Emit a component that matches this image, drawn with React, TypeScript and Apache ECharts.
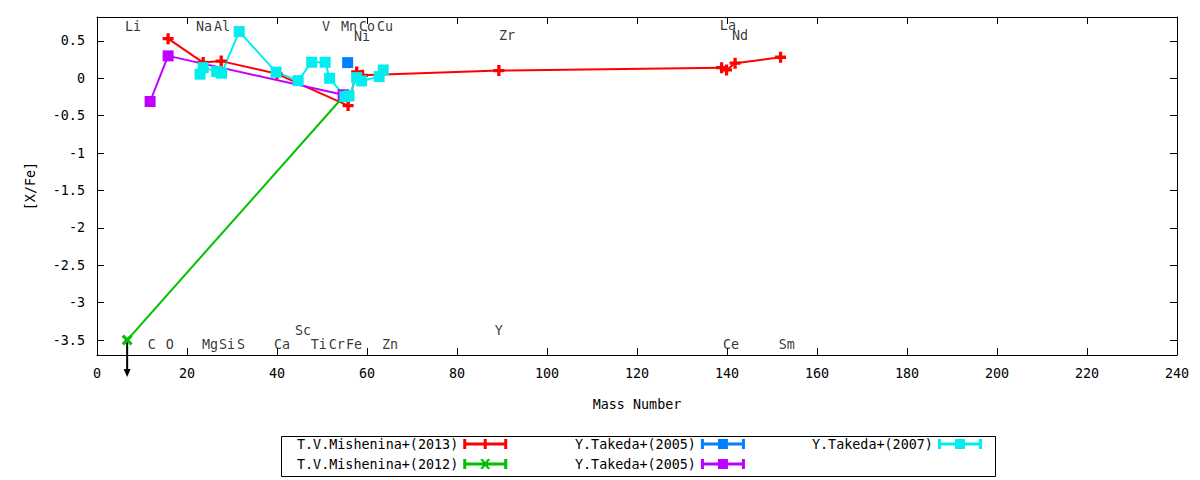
import React, { useEffect, useRef } from "react";
import * as echarts from "echarts";

const FONT = "DejaVu Sans Mono";

// ---------- data ----------
const yTickValues = [-3.5, -3, -2.5, -2, -1.5, -1, -0.5, 0, 0.5];

const mishenina2013: [number, number][] = [
  [15.8, 0.53], [23.6, 0.21], [27.6, 0.23], [40.0, 0.06], [55.8, -0.365],
  [57.7, 0.086], [59.0, 0.04], [89.3, 0.103], [138.8, 0.143], [139.9, 0.112],
  [141.8, 0.202], [151.9, 0.282],
];
const mishenina2012: [number, number][] = [[6.7, -3.5], [55.1, -0.22]];
const takeda2005a: [number, number][] = [[55.7, 0.21]];
const takeda2005b: [number, number][] = [[11.8, -0.31], [15.8, 0.3], [54.7, -0.22]];
const takeda2007: [number, number][] = [
  [22.9, 0.055], [23.6, 0.143], [26.6, 0.09], [27.7, 0.068], [31.6, 0.625],
  [39.8, 0.082], [44.7, -0.031], [47.7, 0.215], [50.7, 0.215], [51.7, 0.0],
  [55.1, -0.245], [56.0, -0.235], [57.7, 0.01], [58.8, -0.035], [62.7, 0.023],
  [63.6, 0.112],
];
const upperLimits: [number, number][] = [[6.7, -3.5]];

const elementLabels: [number, number, string][] = [
  [8.0, 0.69, "Li"], [23.8, 0.69, "Na"], [27.8, 0.69, "Al"], [50.9, 0.69, "V"],
  [56.0, 0.69, "Mn"], [60.0, 0.69, "Co"], [64.0, 0.69, "Cu"], [58.9, 0.555, "Ni"],
  [91.1, 0.567, "Zr"], [140.2, 0.7, "La"], [142.9, 0.567, "Nd"],
  [12.2, -3.566, "C"], [16.2, -3.566, "O"], [25.1, -3.566, "Mg"], [28.9, -3.566, "Si"],
  [32.0, -3.566, "S"], [41.1, -3.566, "Ca"], [45.8, -3.378, "Sc"], [49.3, -3.566, "Ti"],
  [53.3, -3.566, "Cr"], [57.1, -3.566, "Fe"], [65.1, -3.566, "Zn"], [89.3, -3.37, "Y"],
  [140.9, -3.566, "Ce"], [153.3, -3.566, "Sm"],
];

const seriesNames = {
  m2013: "T.V.Mishenina+(2013)",
  m2012: "T.V.Mishenina+(2012)",
  t2005a: "Y.Takeda+(2005)",
  t2005b: "Y.Takeda+(2005)",
  t2007: "Y.Takeda+(2007)",
};

// ---------- symbols ----------
const PLUS = "path://M3.5,0H6.5V3.5H10V6.5H6.5V10H3.5V6.5H0V3.5H3.5Z";
const CROSS = "path://M0,2L2,0L5,3L8,0L10,2L7,5L10,8L8,10L5,7L2,10L0,8L3,5Z";
const BAR = "M0,3.5H44V6.5H0Z M0,0H3V10H0Z M41,0H44V10H41Z";
const ICON_PLUS = "path://" + BAR + " M20.5,0H23.5V10H20.5Z";
const ICON_SQUARE = "path://" + BAR + " M17,0H27V10H17Z";
const ICON_CROSS =
  "path://" + BAR + " M17,0L19.5,0L22,3L24.5,0L27,0L23.5,5L27,10L24.5,10L22,7L19.5,10L17,10L20.5,5Z";

const textStyle = { fontFamily: FONT, fontSize: 13.4, color: "#000" };

export default function App() {
  const ref = useRef<HTMLDivElement>(null);

  useEffect(() => {
    if (!ref.current) return;
    const chart = echarts.init(ref.current, undefined, { renderer: "svg" });

    const axisCommon = {
      type: "value" as const,
      axisLine: { show: true, onZero: false, lineStyle: { color: "#000", width: 1 } },
      axisTick: { show: true, inside: true, length: 7, lineStyle: { color: "#000" } },
      splitLine: { show: false },
    };

    const lineSeries = (
      id: string,
      data: [number, number][],
      color: string,
      symbol: string,
      size: number
    ) => ({
      id,
      name: id,
      type: "line" as const,
      data,
      symbol,
      symbolSize: size,
      showSymbol: true,
      showAllSymbol: true,
      lineStyle: { color, width: 2 },
      itemStyle: { color },
      emphasis: { disabled: true },
      z: 3,
    });

    const legendBase = {
      orient: "vertical" as const,
      top: 437,
      itemGap: 6,
      itemWidth: 44,
      itemHeight: 10,
      align: "right" as const,
      padding: 0,
      selectedMode: false,
      textStyle: { ...textStyle, lineHeight: 14 },
      formatter: (n: string) => (seriesNames as any)[n] ?? n,
    };

    chart.setOption({
      animation: false,
      backgroundColor: "#fff",
      grid: { left: 97, top: 17, width: 1080, height: 338, show: false },
      xAxis: [
        {
          ...axisCommon,
          min: 0,
          max: 240,
          interval: 20,
          position: "bottom",
          axisLabel: { ...textStyle, margin: 12, showMinLabel: true, showMaxLabel: true },
          name: "Mass Number",
          nameLocation: "middle",
          nameGap: 43,
          nameTextStyle: textStyle,
        },
        {
          ...axisCommon,
          min: 0,
          max: 240,
          interval: 20,
          position: "top",
          axisLabel: { show: false },
        },
      ],
      yAxis: [
        {
          ...axisCommon,
          min: -3.7,
          max: 0.82,
          position: "left",
          axisTick: { ...axisCommon.axisTick, customValues: yTickValues },
          axisLabel: { ...textStyle, margin: 12, customValues: yTickValues },
          name: "[X/Fe]",
          nameLocation: "middle",
          nameGap: 60,
          nameRotate: 90,
          nameTextStyle: textStyle,
        },
        {
          ...axisCommon,
          min: -3.7,
          max: 0.82,
          position: "right",
          axisTick: { ...axisCommon.axisTick, customValues: yTickValues },
          axisLabel: { show: false },
        },
      ],
      legend: [
        {
          ...legendBase,
          left: 297,
          data: [
            { name: "m2013", icon: ICON_PLUS },
            { name: "m2012", icon: ICON_CROSS },
          ],
        },
        {
          ...legendBase,
          left: 575,
          data: [
            { name: "t2005a", icon: ICON_SQUARE },
            { name: "t2005b", icon: ICON_SQUARE },
          ],
        },
        {
          ...legendBase,
          left: 812,
          data: [{ name: "t2007", icon: ICON_SQUARE }],
        },
      ],
      graphic: [
        {
          type: "rect",
          left: 279,
          top: 434,
          shape: { width: 714, height: 40 },
          style: { fill: "none", stroke: "#000", lineWidth: 1 },
          silent: true,
        },
      ],
      series: [
        {
          type: "custom",
          coordinateSystem: "cartesian2d",
          data: upperLimits,
          clip: false,
          silent: true,
          z: 2,
          renderItem: (_params: any, api: any) => {
            const p = api.coord([api.value(0), api.value(1)]);
            const len = 37;
            return {
              type: "group",
              children: [
                {
                  type: "line",
                  shape: { x1: p[0], y1: p[1], x2: p[0], y2: p[1] + len - 6 },
                  style: { stroke: "#000", lineWidth: 2 },
                },
                {
                  type: "polygon",
                  shape: {
                    points: [
                      [p[0] - 3.5, p[1] + len - 8],
                      [p[0] + 3.5, p[1] + len - 8],
                      [p[0], p[1] + len],
                    ],
                  },
                  style: { fill: "#000" },
                },
              ],
            };
          },
        },
        lineSeries("m2013", mishenina2013, "#ff0000", PLUS, 11),
        lineSeries("m2012", mishenina2012, "#00c000", CROSS, 11),
        lineSeries("t2005a", takeda2005a, "#0080ff", "rect", 11),
        lineSeries("t2005b", takeda2005b, "#c000ff", "rect", 11),
        lineSeries("t2007", takeda2007, "#00eeee", "rect", 11),
        {
          type: "scatter",
          data: elementLabels,
          symbolSize: 1,
          itemStyle: { color: "rgba(0,0,0,0)" },
          silent: true,
          z: 5,
          label: {
            show: true,
            position: "inside",
            formatter: (p: any) => p.value[2],
            ...textStyle,
          },
        },
      ],
    });

    return () => chart.dispose();
  }, []);

  return (
    <div
      ref={ref}
      style={{ position: "absolute", left: 0, top: 0, width: 1200, height: 480, background: "#fff" }}
    />
  );
}
